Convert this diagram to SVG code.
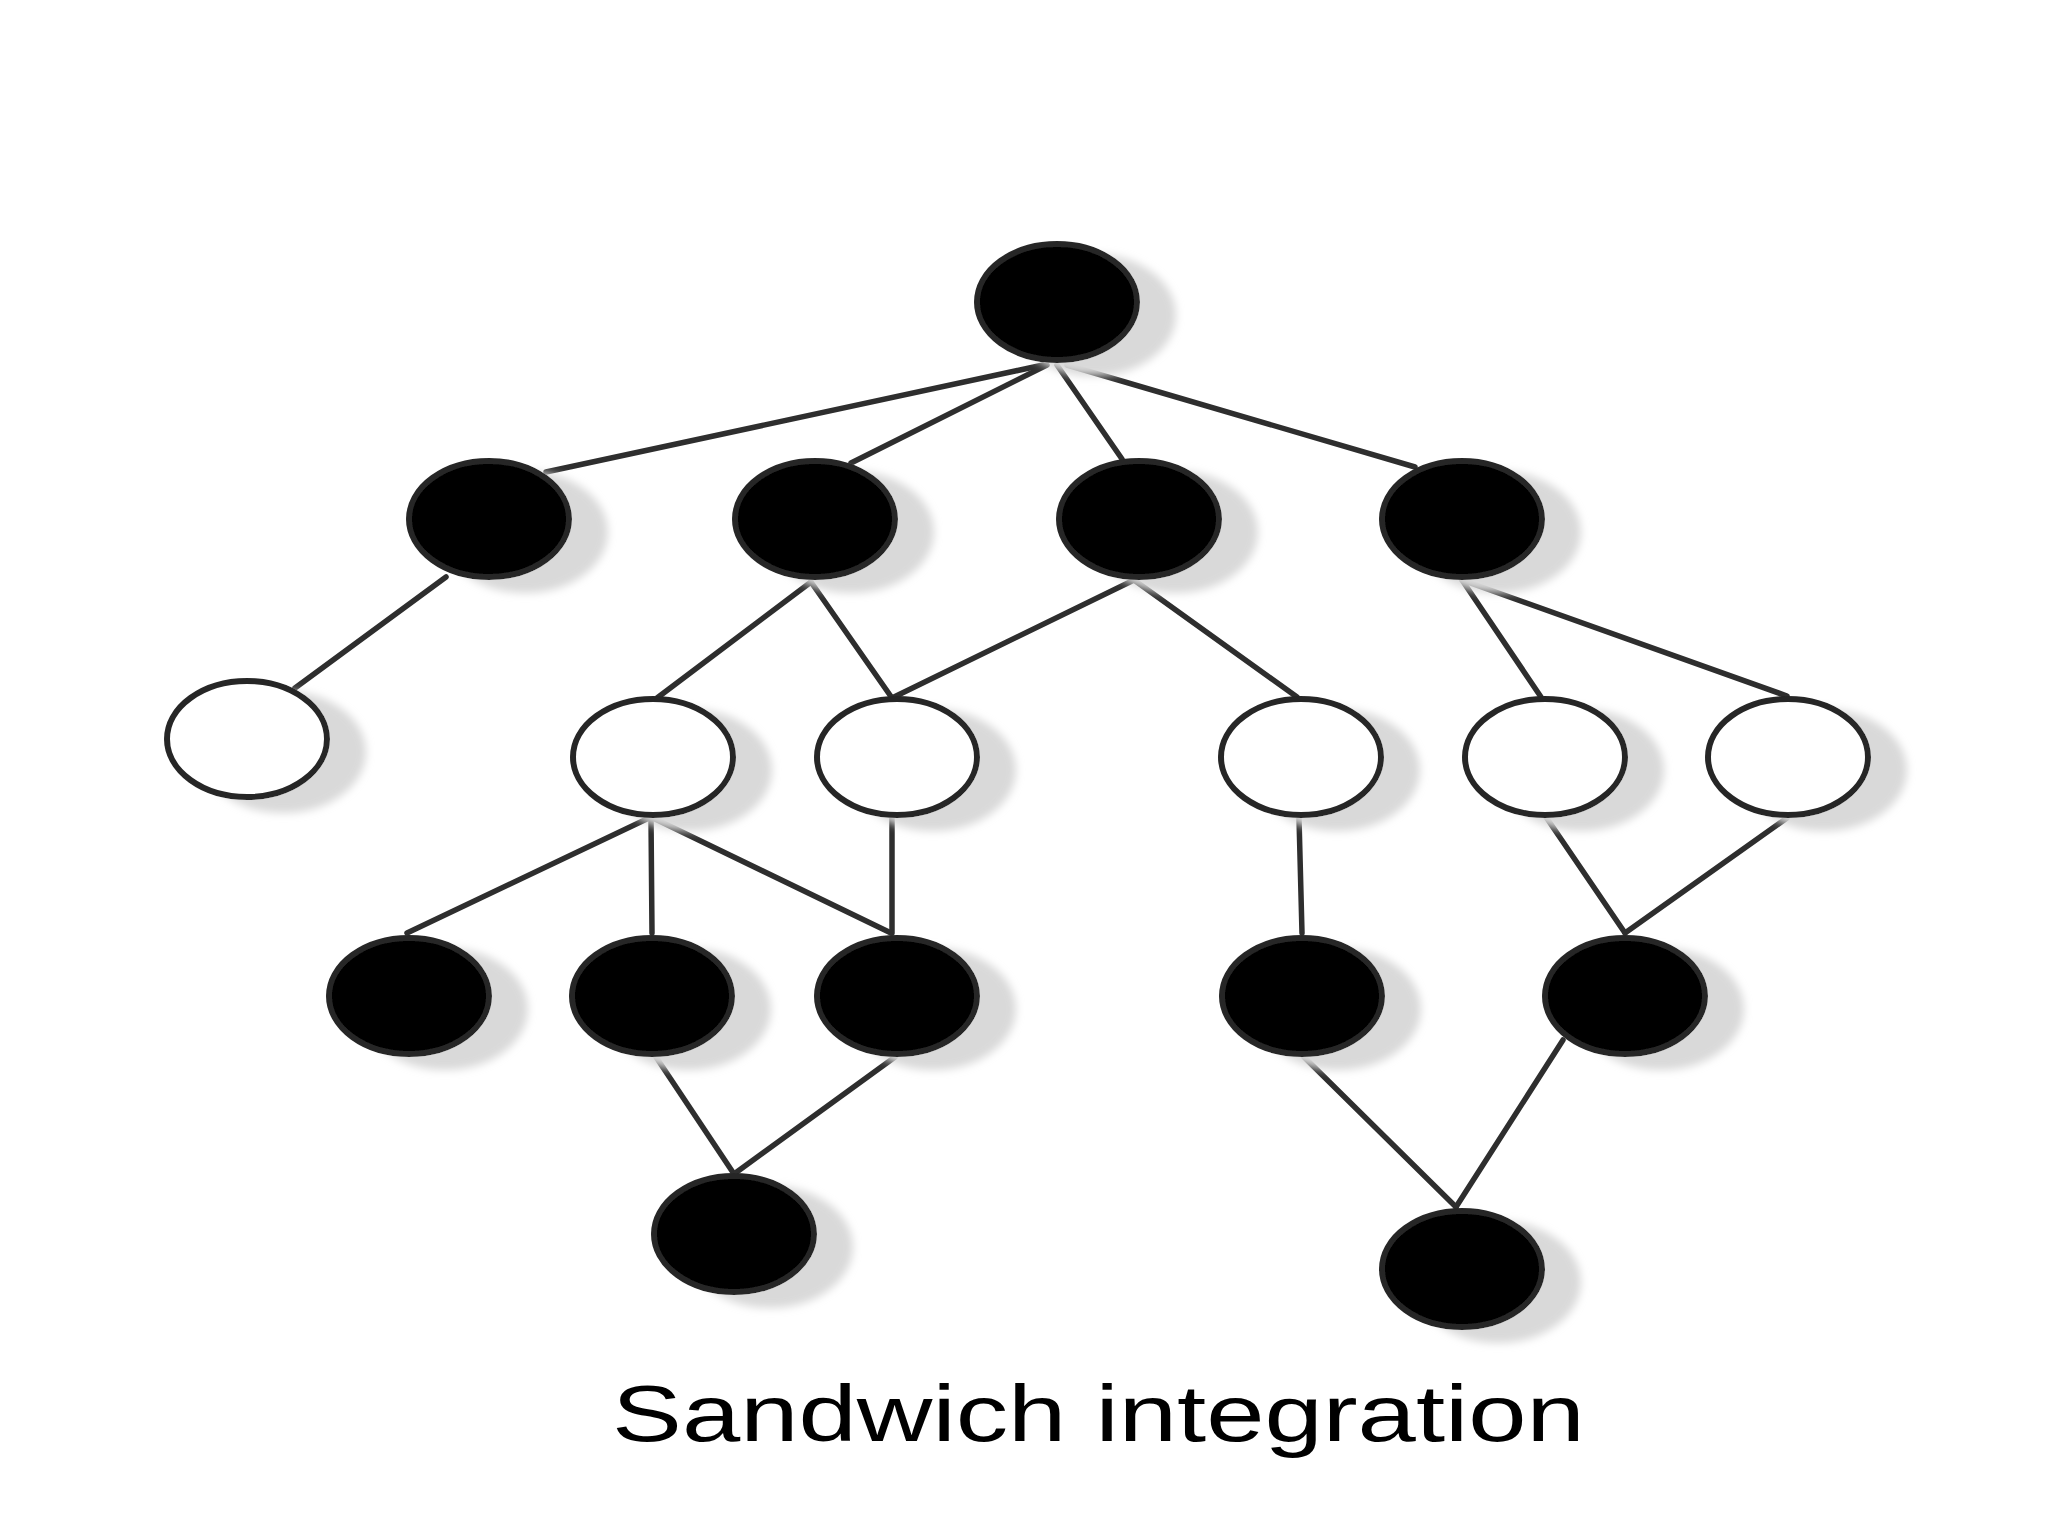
<svg xmlns="http://www.w3.org/2000/svg" width="2048" height="1536" viewBox="0 0 2048 1536">
<defs>
<filter id="shadow" x="-30%" y="-30%" width="180%" height="180%">
<feGaussianBlur in="SourceAlpha" stdDeviation="4" result="b"/>
<feOffset in="b" dx="36" dy="13" result="o"/>
<feFlood flood-color="#d9d9d9"/>
<feComposite in2="o" operator="in" result="s"/>
<feMerge><feMergeNode in="s"/><feMergeNode in="SourceGraphic"/></feMerge>
</filter>
</defs>
<style>
.node ellipse{stroke:#262626;stroke-width:6;filter:url(#shadow)}
.dark ellipse{fill:#000}
.light ellipse{fill:#fff}
.edges line{stroke:#2e2e2e;stroke-width:5.5;stroke-linecap:round}
.caption{font-family:"Liberation Sans",Arial,sans-serif;font-size:80px;fill:#000}
</style>
<rect width="2048" height="1536" fill="#fff"/>
<g id="connectors" class="edges">
<line x1="1043" y1="365" x2="546" y2="472"/>
<line x1="1047" y1="365" x2="851" y2="463"/>
<line x1="1057" y1="365" x2="1122" y2="459"/>
<line x1="1067" y1="365" x2="1415" y2="467"/>
<line x1="446" y1="577" x2="295" y2="688"/>
<line x1="811" y1="582" x2="657" y2="698"/>
<line x1="811" y1="582" x2="892" y2="698"/>
<line x1="1134" y1="580" x2="892" y2="698"/>
<line x1="1134" y1="580" x2="1297" y2="697"/>
<line x1="1462" y1="580" x2="1541" y2="697"/>
<line x1="1462" y1="580" x2="1787" y2="696"/>
<line x1="651" y1="817" x2="407" y2="933"/>
<line x1="651" y1="817" x2="652" y2="933"/>
<line x1="651" y1="817" x2="891" y2="933"/>
<line x1="892" y1="818" x2="892" y2="933"/>
<line x1="1299" y1="818" x2="1302" y2="933"/>
<line x1="1546" y1="817" x2="1625" y2="933"/>
<line x1="1787" y1="818" x2="1625" y2="933"/>
<line x1="656" y1="1057" x2="734" y2="1174"/>
<line x1="895" y1="1057" x2="734" y2="1174"/>
<line x1="1304" y1="1057" x2="1456" y2="1207"/>
<line x1="1563" y1="1040" x2="1456" y2="1207"/>
</g>
<g id="n0" class="node dark"><ellipse cx="1057" cy="302" rx="80" ry="58"/></g>
<g id="n1" class="node dark"><ellipse cx="489" cy="519" rx="80" ry="58"/></g>
<g id="n2" class="node dark"><ellipse cx="815" cy="519" rx="80" ry="58"/></g>
<g id="n3" class="node dark"><ellipse cx="1139" cy="519" rx="80" ry="58"/></g>
<g id="n4" class="node dark"><ellipse cx="1462" cy="519" rx="80" ry="58"/></g>
<g id="w1" class="node light"><ellipse cx="247" cy="739" rx="80" ry="58"/></g>
<g id="w2" class="node light"><ellipse cx="653" cy="757" rx="80" ry="58"/></g>
<g id="w3" class="node light"><ellipse cx="897" cy="757" rx="80" ry="58"/></g>
<g id="w4" class="node light"><ellipse cx="1301" cy="757" rx="80" ry="58"/></g>
<g id="w5" class="node light"><ellipse cx="1545" cy="757" rx="80" ry="58"/></g>
<g id="w6" class="node light"><ellipse cx="1788" cy="757" rx="80" ry="58"/></g>
<g id="b1" class="node dark"><ellipse cx="409" cy="996" rx="80" ry="58"/></g>
<g id="b2" class="node dark"><ellipse cx="652" cy="996" rx="80" ry="58"/></g>
<g id="b3" class="node dark"><ellipse cx="897" cy="996" rx="80" ry="58"/></g>
<g id="b4" class="node dark"><ellipse cx="1302" cy="996" rx="80" ry="58"/></g>
<g id="b5" class="node dark"><ellipse cx="1625" cy="996" rx="80" ry="58"/></g>
<g id="l1" class="node dark"><ellipse cx="734" cy="1234" rx="80" ry="58"/></g>
<g id="l2" class="node dark"><ellipse cx="1462" cy="1269" rx="80" ry="58"/></g>
<text class="caption" transform="translate(612,1441) scale(1.31,1)">Sandwich integration</text>
</svg>
